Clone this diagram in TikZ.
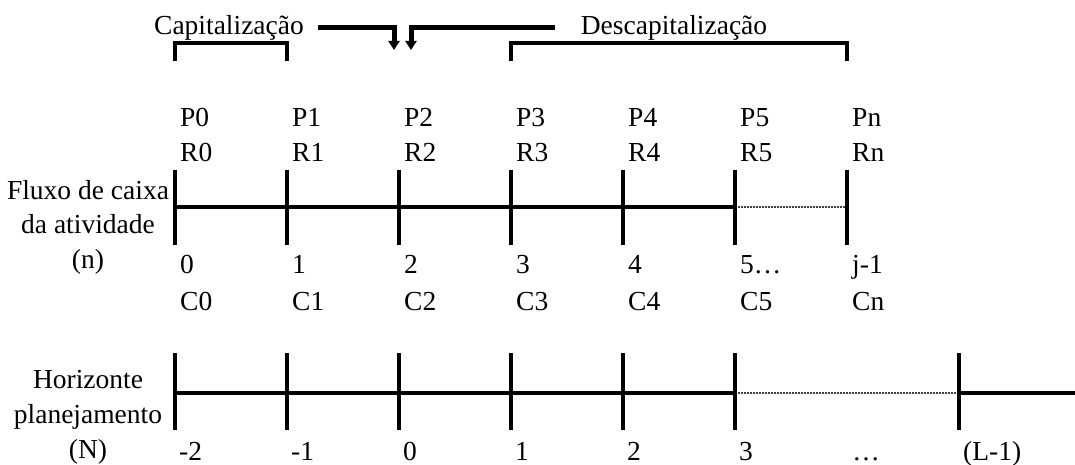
\documentclass[tikz,border=0pt]{standalone}
\usepackage{fontspec}
\setmainfont{Liberation Serif}
\usetikzlibrary{arrows.meta}

\begin{document}
\begin{tikzpicture}[x=1pt, y=-1pt, font=\fontsize{27.5}{33}\selectfont,
    axis/.style={line width=4pt},
    tick/.style={line width=4pt},
    gap/.style={line width=1.5pt, black!75, dash pattern=on 1.5pt off 1.5pt},
    bracket/.style={line width=4pt},
    pointer/.style={line width=5pt, -{Triangle[length=9pt, width=11pt]}},
    lbl/.style={anchor=base west, inner sep=0pt},
    side/.style={anchor=base, inner sep=0pt}]
    \useasboundingbox (0,0) rectangle (1075,465);

    % Titles and brackets
    \node[side] (cap) at (229,35) {Capitalização};
    \node[side] (decap) at (674,35) {Descapitalização};
    \draw[bracket] (175,61) |- (287,43) -- (287,61);
    \draw[bracket] (511,61) |- (847,43) -- (847,61);
    \coordinate (inl) at (394,50);
    \coordinate (inr) at (411,50);
    \draw[pointer] (318,28) -| (inl);
    \draw[pointer] (555,28) -| (inr);

    % Draw nodes: activity cash flow
    \foreach \i/\p/\r/\n/\c in {0/P0/R0/0/C0, 1/P1/R1/1/C1, 2/P2/R2/2/C2,
        3/P3/R3/3/C3, 4/P4/R4/4/C4, 5/P5/R5/5…/C5, 6/Pn/Rn/j-1/Cn} {
        \coordinate (ta\i) at (175+112*\i,207);
        \node[lbl] (p\i) at (180+112*\i,127) {\p};
        \node[lbl] (r\i) at (180+112*\i,162) {\r};
        \node[lbl] (n\i) at (180+112*\i,273) {\n};
        \node[lbl] (c\i) at (180+112*\i,310) {\c};
    }
    \node[side] (fluxo) at (88,200) {Fluxo de caixa};
    \node[side] (ativ) at (88,233) {da atividade};
    \node[side] (nn) at (88,268) {(n)};

    % Draw nodes: planning horizon
    \foreach \i/\h in {0/-2, 1/-1, 2/0, 3/1, 4/2, 5/3, 7/(L-1)} {
        \coordinate (tb\i) at (175+112*\i,393);
        \node[lbl] (h\i) at (179+112*\i,460) {\h};
    }
    \coordinate (tbend) at (1075,393);
    \node[side] (dots) at (866,460) {…};
    \node[side] (horiz) at (88,388) {Horizonte};
    \node[side] (plan) at (88,423) {planejamento};
    \node[side] (NN) at (88,458) {(N)};

    % Draw connections
    \draw[axis] (ta0) -- (ta5);
    \draw[gap] (ta5) -- (ta6);
    \foreach \i in {0,...,6}
        \draw[tick] (ta\i) ++(0,-37) -- ++(0,75);
    \draw[axis] (tb0) -- (tb5);
    \draw[gap] (tb5) -- (tb7);
    \draw[axis] (tb7) -- (tbend);
    \foreach \i in {0,...,5,7}
        \draw[tick] (tb\i) ++(0,-40) -- ++(0,77);
\end{tikzpicture}
\end{document}
